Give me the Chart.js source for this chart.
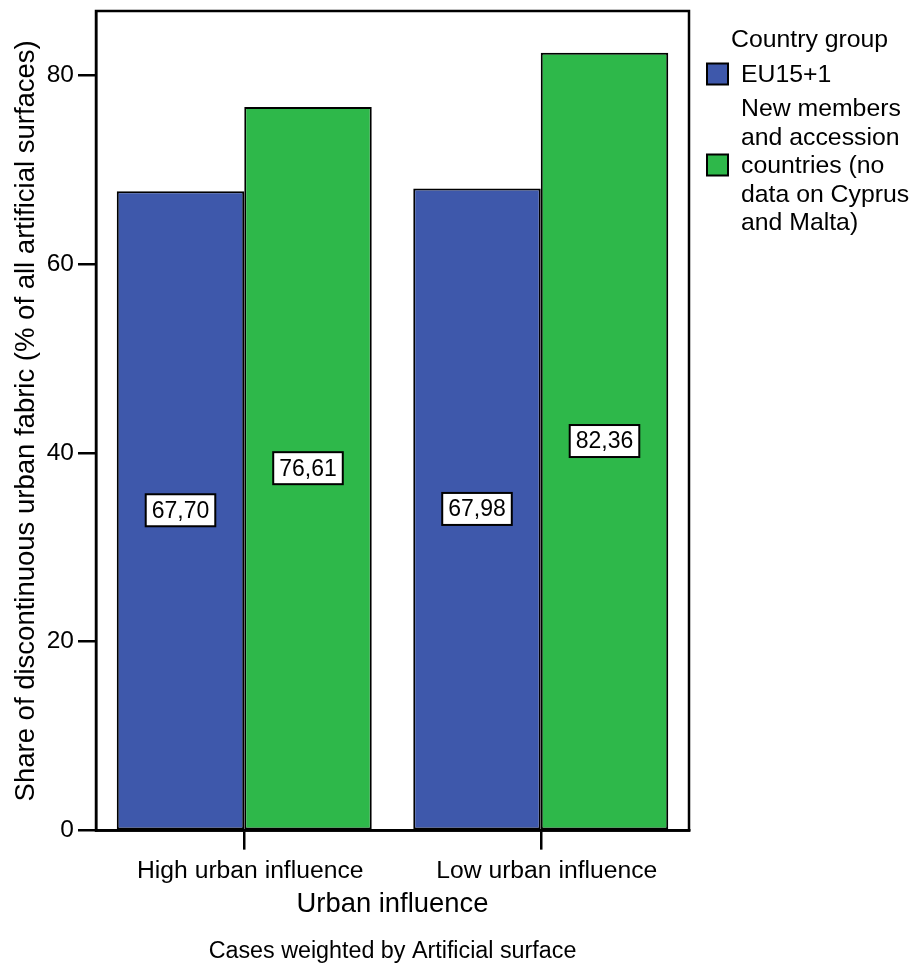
<!DOCTYPE html>
<html>
<head>
<meta charset="utf-8">
<script src="https://cdn.jsdelivr.net/npm/chart.js@4/dist/chart.umd.min.js"></script>
<style>
  html, body { margin: 0; padding: 0; background: #fff; }
  #wrap { width: 916px; height: 967px; }
</style>
</head>
<body>
<div id="wrap"><canvas id="chart" width="916" height="967"></canvas></div>
<script>
// Categories on the x axis
const categories = ['High urban influence', 'Low urban influence'];
// Legend title and series names (legend lines)
const legendTitle = 'Country group';
const seriesNames = [
  ['EU15+1'],
  ['New members', 'and accession', 'countries (no', 'data on Cyprus', 'and Malta)']
];
// Share of discontinuous urban fabric, % of all artificial surfaces
const eu15Values = [67.70, 67.98];
const newMemberValues = [76.61, 82.36];
// Y axis ticks
const yTicks = [0, 20, 40, 60, 80];

const FONT = '"Liberation Sans", Arial, Helvetica, sans-serif';
const BLUE = 'rgb(62,88,171)';
const GREEN = 'rgb(46,184,74)';
const LINE = 2.5;

Chart.defaults.font.family = FONT;
Chart.defaults.color = '#000';

// White page background
const bgPlugin = {
  id: 'bg',
  beforeDraw(chart) {
    const ctx = chart.ctx;
    ctx.save();
    ctx.fillStyle = '#fff';
    ctx.fillRect(0, 0, chart.width, chart.height);
    ctx.restore();
  }
};

// Box around the plotting area
const framePlugin = {
  id: 'frame',
  afterDatasetsDraw(chart) {
    const { ctx, chartArea: a } = chart;
    ctx.save();
    ctx.strokeStyle = '#000';
    ctx.lineWidth = LINE;
    ctx.strokeRect(a.left, a.top, a.right - a.left, a.bottom - a.top);
    ctx.restore();
  }
};

// Boxed value labels in the middle of each bar
const valueLabelPlugin = {
  id: 'valueLabels',
  afterDatasetsDraw(chart) {
    const ctx = chart.ctx;
    ctx.save();
    ctx.font = '23px ' + FONT;
    ctx.textAlign = 'center';
    ctx.textBaseline = 'middle';
    chart.data.datasets.forEach((ds, di) => {
      const meta = chart.getDatasetMeta(di);
      meta.data.forEach((bar, i) => {
        const text = ds.data[i].toFixed(2).replace('.', ',');
        const cx = bar.x;
        const cy = (bar.y + bar.base) / 2;
        const w = ctx.measureText(text).width + 12;
        const h = 32;
        ctx.fillStyle = '#fff';
        ctx.fillRect(cx - w / 2, cy - h / 2, w, h);
        ctx.strokeStyle = '#000';
        ctx.lineWidth = 2;
        ctx.strokeRect(cx - w / 2, cy - h / 2, w, h);
        ctx.fillStyle = '#000';
        ctx.fillText(text, cx, cy + 1);
      });
    });
    ctx.restore();
  }
};

// Legend with title and multi-line entries, right of the plot
const groupLegendPlugin = {
  id: 'groupLegend',
  afterDraw(chart) {
    const { ctx, chartArea: a } = chart;
    const lineH = 28.5;
    ctx.save();
    ctx.font = '24.8px ' + FONT;
    ctx.fillStyle = '#000';
    ctx.textAlign = 'left';
    ctx.textBaseline = 'alphabetic';
    ctx.fillText(legendTitle, a.right + 42, 47);
    let baseline = 82;
    chart.data.datasets.forEach((ds, di) => {
      const lines = seriesNames[di];
      const first = baseline;
      lines.forEach((ln, k) => {
        ctx.fillStyle = '#000';
        ctx.fillText(ln, a.right + 52, first + k * lineH);
      });
      const last = first + (lines.length - 1) * lineH;
      const boxC = (first + last) / 2 - 8;
      ctx.fillStyle = ds.backgroundColor;
      ctx.fillRect(a.right + 18, boxC - 10.5, 21, 21);
      ctx.strokeStyle = '#000';
      ctx.lineWidth = 2;
      ctx.strokeRect(a.right + 18, boxC - 10.5, 21, 21);
      baseline = last + lineH + 5.5;
    });
    ctx.restore();
  }
};

new Chart(document.getElementById('chart'), {
  type: 'bar',
  data: {
    labels: categories,
    datasets: [
      {
        label: seriesNames[0].join(' '),
        data: eu15Values,
        backgroundColor: BLUE,
        borderColor: '#000',
        borderWidth: 2,
        borderSkipped: false
      },
      {
        label: seriesNames[1].join(' '),
        data: newMemberValues,
        backgroundColor: GREEN,
        borderColor: '#000',
        borderWidth: 2,
        borderSkipped: false
      }
    ]
  },
  options: {
    responsive: false,
    animation: false,
    devicePixelRatio: 1,
    categoryPercentage: 0.86,
    barPercentage: 1.0,
    layout: { padding: { left: 0, right: 227, top: 11, bottom: 0 } },
    plugins: {
      legend: { display: false },
      tooltip: { enabled: false },
      subtitle: {
        display: true,
        position: 'bottom',
        fullSize: false,
        text: 'Cases weighted by Artificial surface',
        color: '#000',
        font: { size: 23.3, weight: 'normal' },
        padding: { top: 0, bottom: 1 }
      }
    },
    scales: {
      x: {
        offset: true,
        grid: {
          display: true,
          offset: false,
          drawOnChartArea: false,
          drawTicks: true,
          tickLength: 19,
          color: '#000',
          lineWidth: LINE
        },
        border: { display: true, color: '#000', width: LINE },
        ticks: { color: '#000', font: { size: 24.7 }, padding: 7, labelOffset: 6, maxRotation: 0, autoSkip: false },
        title: {
          display: true,
          text: 'Urban influence',
          color: '#000',
          font: { size: 27.4 },
          padding: { top: 0, bottom: 17.5 }
        },
        afterFit(scale) {
          scale.height = 107.4;
          scale.paddingLeft = 0;
          scale.paddingRight = 0;
        }
      },
      y: {
        min: 0,
        max: 86.77,
        grid: {
          display: true,
          drawOnChartArea: false,
          drawTicks: true,
          tickLength: 18,
          color: '#000',
          lineWidth: LINE
        },
        border: { display: true, color: '#000', width: LINE },
        ticks: { color: '#000', font: { size: 24.5 }, padding: 4 },
        afterBuildTicks(scale) { scale.ticks = yTicks.map(v => ({ value: v })); },
        title: {
          display: true,
          text: 'Share of discontinuous urban fabric (% of all artificial surfaces)',
          color: '#000',
          font: { size: 27.5 },
          padding: { top: 10, bottom: 0 }
        },
        afterFit(scale) {
          scale.width = 96;
          scale.paddingTop = 0;
          scale.paddingBottom = 0;
        }
      }
    }
  },
  plugins: [bgPlugin, framePlugin, valueLabelPlugin, groupLegendPlugin]
});
</script>
</body>
</html>
